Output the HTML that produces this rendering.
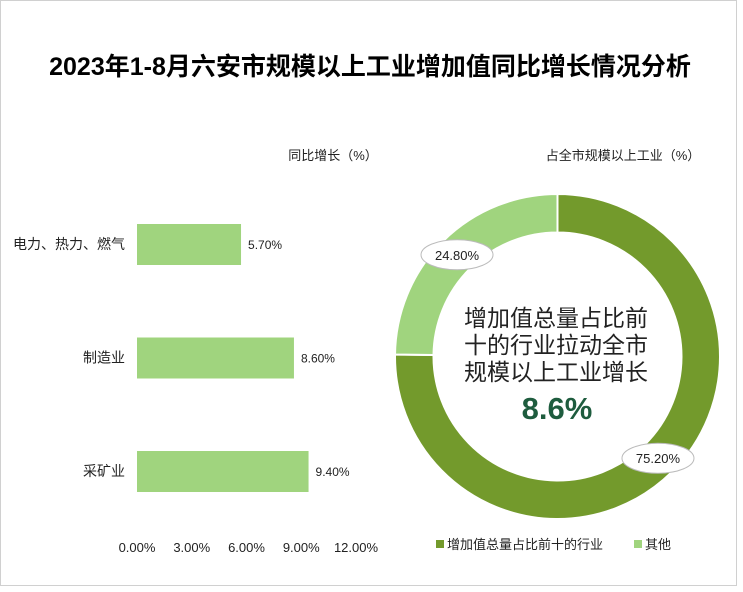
<!DOCTYPE html>
<html><head><meta charset="utf-8"><style>
body{margin:0;background:#fff;}
svg text{font-family:"Liberation Sans","Noto Sans CJK SC",sans-serif;}
</style></head><body>
<svg width="743" height="587" viewBox="0 0 743 587">
<rect x="0.5" y="0.5" width="736" height="585" fill="#fff" stroke="#d0d0d0"/>
<text x="370" y="75" font-size="25" font-weight="bold" text-anchor="middle" fill="#000">2023年1-8月六安市规模以上工业增加值同比增长情况分析</text>
<text x="333" y="160" font-size="13" text-anchor="middle" fill="#222">同比增长（%）</text>
<text x="623" y="160" font-size="13" text-anchor="middle" fill="#222">占全市规模以上工业（%）</text>
<g id="bars"></g>
<g id="donut"></g>
<text x="556" y="326" font-size="23" text-anchor="middle" fill="#222">增加值总量占比前</text>
<text x="556" y="353" font-size="23" text-anchor="middle" fill="#222">十的行业拉动全市</text>
<text x="556" y="380" font-size="23" text-anchor="middle" fill="#222">规模以上工业增长</text>
<text x="557" y="419" font-size="31" font-weight="bold" text-anchor="middle" fill="#1e5c3e">8.6%</text>
<rect x="436" y="540" width="8" height="8" fill="#739a2c"/>
<text x="447" y="549" font-size="13" fill="#222">增加值总量占比前十的行业</text>
<rect x="634" y="540" width="8" height="8" fill="#a0d47e"/>
<text x="645" y="549" font-size="13" fill="#222">其他</text>
</svg>
<script>
const categories=["电力、热力、燃气","制造业","采矿业"];
const growth=[5.7,8.6,9.4];
const ticks=[0,3,6,9,12];
const tickLabels=["0.00%","3.00%","6.00%","9.00%","12.00%"];
const slices=[75.2,24.8];
const sliceLabels=["75.20%","24.80%"];
const ns="http://www.w3.org/2000/svg";
function mk(t,a,p){const e=document.createElementNS(ns,t);for(const k in a)e.setAttribute(k,a[k]);p.appendChild(e);return e;}
const bx=v=>137+v*(356-137)/12;
const by=i=>224+i*113.5;
const bars=document.getElementById('bars');
ticks.forEach((t,i)=>{
 const tx=mk('text',{x:bx(t),y:552,'font-size':13,'text-anchor':'middle',fill:'#222'},bars);
 tx.textContent=tickLabels[i];
 
 
});
categories.forEach((c,i)=>{
 const r=mk('rect',{x:bx(0),y:by(i),width:bx(growth[i])-bx(0),height:41,fill:'#a0d47e'},bars);
 
 
 const lb=mk('text',{x:125,y:by(i)+25,'font-size':14,'text-anchor':'end',fill:'#222'},bars);
 lb.textContent=c;
 
 
 const vl=mk('text',{x:bx(growth[i])+7,y:by(i)+25,'font-size':12,fill:'#222'},bars);
 vl.textContent=growth[i].toFixed(2)+'%';
 
 
});
const cx=557.5,cy=356.5,R=162.5,r0=124;
const dg=document.getElementById('donut');
const colors=['#739a2c','#a0d47e'];
const total=slices.reduce((a,b)=>a+b,0);
let a0=0;
const pt=(a,rr)=>[cx+rr*Math.sin(a),cy-rr*Math.cos(a)];
slices.forEach((v,i)=>{
 const a1=a0+v/total*2*Math.PI;
 const lg=(a1-a0)>Math.PI?1:0;
 const [x1,y1]=pt(a0,R),[x2,y2]=pt(a1,R),[x3,y3]=pt(a1,r0),[x4,y4]=pt(a0,r0);
 const p=mk('path',{d:`M${x1},${y1}A${R},${R} 0 ${lg} 1 ${x2},${y2}L${x3},${y3}A${r0},${r0} 0 ${lg} 0 ${x4},${y4}Z`,fill:colors[i],stroke:'#fff','stroke-width':2},dg);
 
 
 const am=(a0+a1)/2;
 const [lx,ly]=pt(am,R*0.88);
 const el=mk('ellipse',{cx:lx,cy:ly,rx:36,ry:15,fill:'#fff',stroke:'#bbb'},dg);
 
 
 const t=mk('text',{x:lx,y:ly+5,'font-size':13,'text-anchor':'middle',fill:'#222'},dg);
 t.textContent=sliceLabels[i];
 
 
 a0=a1;
});
</script>
</body></html>
